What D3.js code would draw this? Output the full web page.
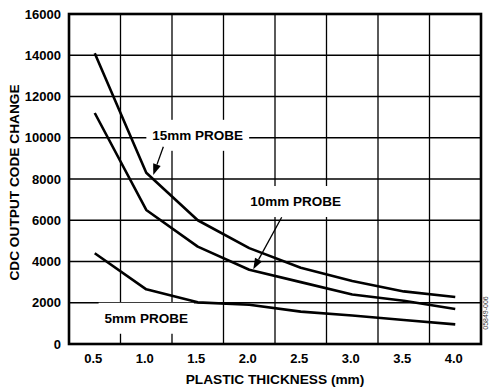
<!DOCTYPE html>
<html><head><meta charset="utf-8">
<script src="https://cdn.jsdelivr.net/npm/d3@7"></script>
<style>body{margin:0;background:#fff}svg{display:block}text{font-family:"Liberation Sans",Arial,sans-serif;fill:#000}</style>
</head><body><svg id="c" width="503" height="391"></svg>
<script>
const thickness = [0.5, 1.0, 1.5, 2.0, 2.5, 3.0, 3.5, 4.0];
const probe15 = [14100, 8300, 6000, 4650, 3700, 3050, 2550, 2280];
const probe10 = [11200, 6500, 4720, 3600, 3000, 2400, 2100, 1700];
const probe5  = [4400, 2650, 2020, 1900, 1570, 1380, 1160, 950];
const xTickLabels = ["0.5","1.0","1.5","2.0","2.5","3.0","3.5","4.0"];
const yTickValues = [0,2000,4000,6000,8000,10000,12000,14000,16000];
const xGrid = [0.25,0.75,1.25,1.75,2.25,2.75,3.25,3.75,4.25];
const seriesNames = ["15mm PROBE","10mm PROBE","5mm PROBE"];

const annotations = [
  {text: seriesNames[0], x: 1.5, y: 9900, arrow: [[1.166, 9566],[1.068, 8194]]},
  {text: seriesNames[1], x: 2.45, y: 6690, arrow: [[2.315, 6143],[2.039, 3622]]},
  {text: seriesNames[2], x: 1.0, y: 1030, arrow: null}
];

const svg = d3.select("#c");
const L = 69, R = 481, T = 14, B = 344;
const x = d3.scaleLinear().domain([0.25, 4.25]).range([L, R]);
const y = d3.scaleLinear().domain([0, 16000]).range([B, T]);

// grid
const g = svg.append("g");
g.selectAll("line.v").data(xGrid).join("line")
  .attr("x1", d => x(d)).attr("x2", d => x(d)).attr("y1", T).attr("y2", B)
  .attr("stroke", "#000").attr("stroke-width", 1.3);
g.selectAll("line.h").data(yTickValues).join("line")
  .attr("y1", d => y(d)).attr("y2", d => y(d)).attr("x1", L).attr("x2", R)
  .attr("stroke", "#000").attr("stroke-width", 1.3);

// label backgrounds + labels
const ag = svg.append("g");
annotations.forEach(a => {
  const t = ag.append("text").attr("x", x(a.x)).attr("y", y(a.y))
    .attr("text-anchor", "middle").attr("font-size", 13.5).attr("font-weight", "bold")
    .text(a.text);
  const bb = t.node().getBBox();
  ag.insert("rect", "text").attr("x", bb.x - 6).attr("y", bb.y - 8)
    .attr("width", bb.width + 12).attr("height", bb.height + 16).attr("fill", "#fff");
});

// lines
const line = d3.line().x((d, i) => x(thickness[i])).y(d => y(d));
[probe15, probe10, probe5].forEach(s => {
  svg.append("path").attr("d", line(s)).attr("fill", "none")
    .attr("stroke", "#000").attr("stroke-width", 2.6).attr("stroke-linejoin", "round");
});

// arrows
annotations.filter(a => a.arrow).forEach(a => {
  const [p0, p1] = a.arrow;
  const x0 = x(p0[0]), y0 = y(p0[1]), x1 = x(p1[0]), y1 = y(p1[1]);
  const ang = Math.atan2(y1 - y0, x1 - x0);
  const hl = 11, hw = 4;
  const bx = x1 - hl * Math.cos(ang), by = y1 - hl * Math.sin(ang);
  svg.append("line").attr("x1", x0).attr("y1", y0).attr("x2", bx).attr("y2", by)
    .attr("stroke", "#000").attr("stroke-width", 1.3);
  const px = -Math.sin(ang) * hw, py = Math.cos(ang) * hw;
  svg.append("path").attr("d", `M${x1},${y1}L${bx+px},${by+py}L${bx-px},${by-py}Z`).attr("fill", "#000");
});

// frame
svg.append("rect").attr("x", L).attr("y", T).attr("width", R - L).attr("height", B - T)
  .attr("fill", "none").attr("stroke", "#000").attr("stroke-width", 2.6);

// tick labels
svg.selectAll("text.xt").data(thickness).join("text")
  .attr("x", (d) => x(d) - 1.5).attr("y", 362.5).attr("text-anchor", "middle")
  .attr("font-size", 13).attr("font-weight", "bold")
  .text((d, i) => xTickLabels[i]);
svg.selectAll("text.yt").data(yTickValues).join("text")
  .attr("x", 61).attr("y", d => y(d)).attr("dy", "0.36em").attr("text-anchor", "end")
  .attr("font-size", 13).attr("font-weight", "bold")
  .text(d => d);

// axis titles
svg.append("text").attr("x", 275).attr("y", 384).attr("text-anchor", "middle")
  .attr("font-size", 13.7).attr("font-weight", "bold").text("PLASTIC THICKNESS (mm)");
svg.append("text").attr("transform", "translate(18.5,182.5) rotate(-90)").attr("text-anchor", "middle")
  .attr("font-size", 13.7).attr("font-weight", "bold").text("CDC OUTPUT CODE CHANGE");

svg.append("text").attr("transform", "translate(487.5,313) rotate(-90)").attr("text-anchor", "middle")
  .attr("font-size", 7).style("fill", "#333").text("05849-006");
</script></body></html>
